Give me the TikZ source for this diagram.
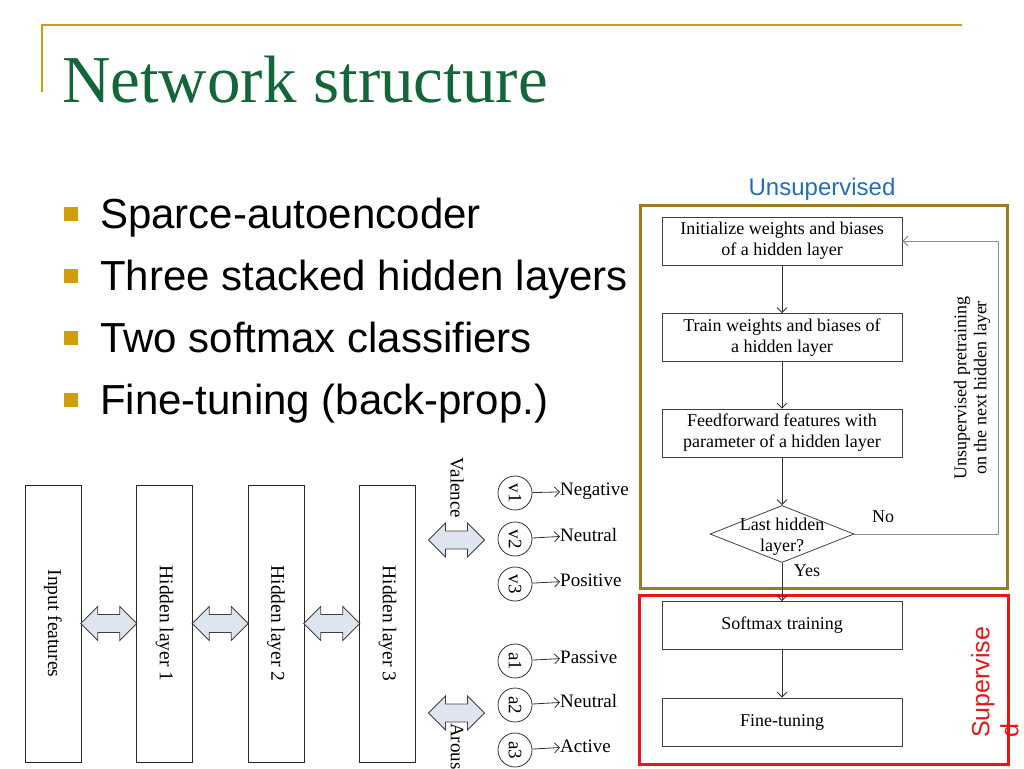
\documentclass[tikz,border=0pt]{standalone}
\usepackage{fontspec}
\setmainfont{Liberation Serif}
\newfontfamily\arialfont{Liberation Sans}
\usepackage{tikz}
\usetikzlibrary{arrows, arrows.meta, shapes.geometric, calc}
\definecolor{titlegreen}{RGB}{18,102,56}
\definecolor{bulletgold}{RGB}{207,158,10}
\definecolor{framegold}{RGB}{158,122,32}
\definecolor{superred}{RGB}{232,22,22}
\definecolor{unsupblue}{RGB}{34,110,190}
\definecolor{arrfill}{RGB}{222,229,240}
\tikzset{
  dblarrow/.pic={\draw[draw=black!75, fill=arrfill, line width=0.9pt]
    (-28,0) -- (-11,-17) -- (-11,-9) -- (11,-9) -- (11,-17) -- (28,0)
    -- (11,17) -- (11,9) -- (-11,9) -- (-11,17) -- cycle;},
  flowbox/.style={draw=black!75, line width=0.8pt, minimum width=240pt, minimum height=48pt, inner sep=0, align=center},
  layerbox/.style={draw=black!85, line width=0.9pt, rotate=-90, minimum width=277pt, minimum height=56pt, inner sep=0},
  small/.style={font=\fontsize{18}{21}\selectfont},
  link/.style={->, black!80, line width=0.8pt}
}

\begin{document}
\begin{tikzpicture}[x=1pt, y=-1pt, >={Straight Barb[length=5pt,width=10pt]}]
\useasboundingbox (0,0) rectangle (1024,768);
\draw[bulletgold, line width=2pt] (42,92) -- (42,25) -- (962,25);
\node[anchor=base west, text=titlegreen, inner sep=0, font=\fontsize{67}{70}\selectfont] (title) at (62,102) {Network structure};

\foreach \txt [count=\i from 0] in {Sparce-autoencoder, Three stacked hidden layers, Two softmax classifiers, Fine-tuning (back-prop.)} {
  \pgfmathsetmacro{\yy}{62*\i}
  \fill[bulletgold] (64,207+\yy) rectangle (78,221+\yy);
  \node[anchor=base west, inner sep=0, font=\arialfont\fontsize{42}{44}\selectfont] (b\i) at (100,228+\yy) {\txt};
}

\draw[framegold, line width=3pt] (640,205) rectangle (1007,588);
\draw[superred, line width=3pt] (639,595) rectangle (1008,764);
\node[text=unsupblue, font=\arialfont\fontsize{24}{26}\selectfont] (unsup) at (822,189) {Unsupervised};
\node[text=superred, rotate=90, align=left, anchor=west, inner sep=0, font=\arialfont\fontsize{25}{29}\selectfont] (sup) at (995,738) {Supervise\\d};

\begin{scope}[small]
  \node[flowbox] (init) at (782,241) {Initialize weights and biases\\of a hidden layer};
  \node[flowbox] (train) at (782,337.5) {Train weights and biases of\\a hidden layer};
  \node[flowbox] (feed) at (782,433) {Feedforward features with\\parameter of a hidden layer};
  \node[diamond, draw=black!75, line width=0.8pt, minimum width=144pt, minimum height=57pt, inner sep=0] (last) at (782,534) {};
  \node[align=center, inner sep=0] (lastt) at (782,537) {Last hidden\\layer?};
  \node[flowbox] (soft) at (782,625.5) {Softmax training};
  \node[flowbox] (fine) at (782,722) {Fine-tuning};
  \node (no) at (883,517) {No};
  \node (yes) at (807,571) {Yes};
  \node[rotate=90, align=center, inner sep=0, font=\fontsize{18}{20}\selectfont] (loopt) at (972,388) {Unsupervised pretraining\\on the next hidden layer};
\end{scope}
\coordinate (loop) at (998,241);
\draw[link] (init) -- (train);
\draw[link] (train) -- (feed);
\draw[link] (feed) -- (last);
\draw[link] (last) -- (soft);
\draw[link] (soft) -- (fine);
\draw[link, black!45, line width=1pt] (last.east) -| (loop) -- (init.east);

\begin{scope}[font=\fontsize{19.5}{22}\selectfont]
  \node[layerbox] (inp) at (53,623.5) {Input features};
  \node[layerbox] (h1) at (164.5,623.5) {Hidden layer 1};
  \node[layerbox] (h2) at (276,623.5) {Hidden layer 2};
  \node[layerbox] (h3) at (387.5,623.5) {Hidden layer 3};
\end{scope}
\pic at ($(inp.north)!.5!(h1.south)$) {dblarrow};
\pic at ($(h1.north)!.5!(h2.south)$) {dblarrow};
\pic at ($(h2.north)!.5!(h3.south)$) {dblarrow};

\pic at (456.5,540) {dblarrow};
\pic at (456.5,713) {dblarrow};
\begin{scope}[font=\fontsize{19}{22}\selectfont]
  \node[rotate=-90, inner sep=0] (val) at (457,488) {Valence};
  \node[rotate=-90, anchor=west, inner sep=0] (aro) at (457,723) {Arous};
  \foreach \n/\y/\lab in {v1/493/Negative, v2/539/Neutral, v3/584/Positive, a1/661/Passive, a2/705/Neutral, a3/750/Active} {
    \node[circle, draw=black!80, line width=0.8pt, minimum size=34pt, inner sep=0, rotate=-90] (\n) at (515,\y) {\n};
    \node[anchor=mid west, inner sep=0] (\n l) at (560,\y) {\lab};
    \draw[link] (\n) -- (\n l);
  }
\end{scope}
\end{tikzpicture}
\end{document}
